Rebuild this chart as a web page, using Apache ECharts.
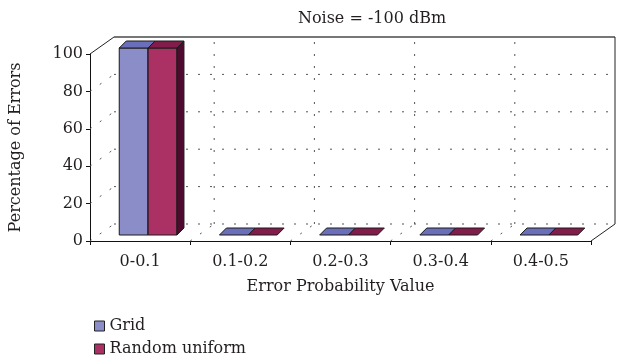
<!DOCTYPE html>
<html>
<head>
<meta charset="utf-8">
<script src="https://cdn.jsdelivr.net/npm/echarts@6/dist/echarts.min.js"></script>
<style>
  html, body { margin: 0; padding: 0; background: #fff; }
  #chart { width: 619px; height: 364px; }
</style>
</head>
<body>
<div id="chart"></div>
<script>
// Error distribution for noise level -100 dBm
const categories = ['0-0.1', '0.1-0.2', '0.2-0.3', '0.3-0.4', '0.4-0.5'];
const gridValues = [100, 0, 0, 0, 0];
const randomValues = [100, 0, 0, 0, 0];
const yTicks = [0, 20, 40, 60, 80, 100];

const FONT = 'DejaVu Serif';
const TEXT = '#231f20';

// pseudo-3D depth of the box (front plane -> back wall), in pixels
const DX = 24, DY = -17;
// bars sit a little behind the front plane and have their own depth
const FX = 8, FY = -6;
const BDX = 7, BDY = -7;
const BAR_FRAC = 0.288;

const palette = {
  grid:   { front: '#8a8dc8', top: '#6b6fba', side: '#4a4c8a' },
  random: { front: '#ab3064', top: '#821c4b', side: '#4e0b2f' }
};

function line(x1, y1, x2, y2, style) {
  return { type: 'line', shape: { x1, y1, x2, y2 }, style: Object.assign({ fill: null }, style) };
}

// walls, floor and their dotted gridlines
function renderFrame(params, api) {
  const n = categories.length;
  const bw = api.size([1, 0])[0];
  const x0 = api.coord([0, 0])[0] - bw / 2;
  const x1 = api.coord([n - 1, 0])[0] + bw / 2;
  const y0 = api.coord([0, 0])[1];
  const yTop = api.coord([0, yTicks[yTicks.length - 1]])[1];
  const dotted = { stroke: '#555', lineWidth: 1, lineDash: [2, 10] };
  const children = [];
  yTicks.forEach(function (v, k) {
    if (k === yTicks.length - 1) return;
    const y = api.coord([0, v])[1];
    children.push(line(x0, y, x0 + DX, y + DY, dotted));
    children.push(line(x0 + DX, y + DY, x1 + DX, y + DY, dotted));
  });
  for (let i = 1; i < n; i++) {
    const x = x0 + i * bw;
    children.push(line(x, y0, x + DX, y0 + DY, dotted));
    children.push(line(x + DX, y0 + DY, x + DX, yTop + DY, dotted));
  }
  const solid = { stroke: '#222', lineWidth: 1 };
  children.push(line(x0, yTop, x0 + DX, yTop + DY, solid));
  children.push(line(x0 + DX, yTop + DY, x1 + DX, yTop + DY, { stroke: '#777', lineWidth: 2 }));
  children.push(line(x1 + DX, yTop + DY, x1 + DX, y0 + DY, solid));
  children.push(line(x1, y0, x1 + DX, y0 + DY, solid));
  return { type: 'group', children };
}

function barRenderer(slot, colors) {
  return function (params, api) {
    const i = api.value(0), v = api.value(1);
    const bw = api.size([1, 0])[0];
    const w = bw * BAR_FRAC;
    const c = api.coord([i, v]);
    const b = api.coord([i, 0]);
    const xl = c[0] - w + slot * w + FX;
    const xr = xl + w;
    const yt = c[1] + FY, yb = b[1] + FY;
    const edge = { stroke: '#1a1a1a', lineWidth: 1, lineJoin: 'round' };
    const children = [];
    if (yb - yt > 0.5) {
      children.push({ type: 'polygon', shape: { points: [[xl, yt], [xr, yt], [xr, yb], [xl, yb]] },
        style: Object.assign({ fill: colors.front }, edge) });
      children.push({ type: 'polygon', shape: { points: [[xr, yt], [xr + BDX, yt + BDY], [xr + BDX, yb + BDY], [xr, yb]] },
        style: Object.assign({ fill: colors.side }, edge) });
    }
    children.push({ type: 'polygon', shape: { points: [[xl, yt], [xr, yt], [xr + BDX, yt + BDY], [xl + BDX, yt + BDY]] },
      style: Object.assign({ fill: colors.top }, edge) });
    return { type: 'group', children };
  };
}

const legendText = { fontFamily: FONT, fontSize: 16, color: TEXT };
const chart = echarts.init(document.getElementById('chart'), null, { renderer: 'canvas' });
chart.setOption({
  animation: false,
  backgroundColor: '#fff',
  title: {
    text: 'Noise = -100 dBm',
    left: 367, top: 6, textAlign: 'center',
    textStyle: { fontFamily: FONT, fontSize: 16, fontWeight: 'normal', color: TEXT }
  },
  legend: [
    { left: 89, top: 313, icon: 'rect', itemWidth: 10, itemHeight: 10, textStyle: legendText,
      data: [{ name: 'Grid', itemStyle: { color: palette.grid.front, borderColor: '#222', borderWidth: 1 } }] },
    { left: 89, top: 336, icon: 'rect', itemWidth: 10, itemHeight: 10, textStyle: legendText,
      data: [{ name: 'Random uniform', itemStyle: { color: palette.random.front, borderColor: '#222', borderWidth: 1 } }] }
  ],
  grid: { left: 88, right: 28, top: 54, bottom: 123, containLabel: false },
  xAxis: {
    type: 'category', data: categories, boundaryGap: true,
    name: 'Error Probability Value', nameLocation: 'middle', nameGap: 38,
    nameTextStyle: { fontFamily: FONT, fontSize: 16, color: TEXT },
    axisLine: { show: true, lineStyle: { color: '#111', width: 1 } },
    axisTick: { show: true, length: 4, lineStyle: { color: '#111' } },
    axisLabel: { fontFamily: FONT, fontSize: 16, color: TEXT, margin: 13 },
    splitLine: { show: false }
  },
  yAxis: {
    type: 'value', min: 0, max: 100, interval: 20,
    name: 'Percentage of Errors', nameLocation: 'middle', nameGap: 66,
    nameTextStyle: { fontFamily: FONT, fontSize: 16, color: TEXT },
    axisLine: { show: true, lineStyle: { color: '#111', width: 1 } },
    axisTick: { show: true, length: 4, lineStyle: { color: '#111' } },
    axisLabel: { fontFamily: FONT, fontSize: 16, color: TEXT, margin: 7 },
    splitLine: { show: false }
  },
  series: [
    { type: 'custom', name: 'frame', z: 1, silent: true,
      data: [[0, 0]], renderItem: renderFrame },
    { type: 'custom', name: 'Grid', z: 2,
      itemStyle: { color: palette.grid.front },
      data: gridValues.map(function (v, i) { return [i, v]; }),
      renderItem: barRenderer(0, palette.grid) },
    { type: 'custom', name: 'Random uniform', z: 3,
      itemStyle: { color: palette.random.front },
      data: randomValues.map(function (v, i) { return [i, v]; }),
      renderItem: barRenderer(1, palette.random) }
  ]
});
</script>
</body>
</html>
